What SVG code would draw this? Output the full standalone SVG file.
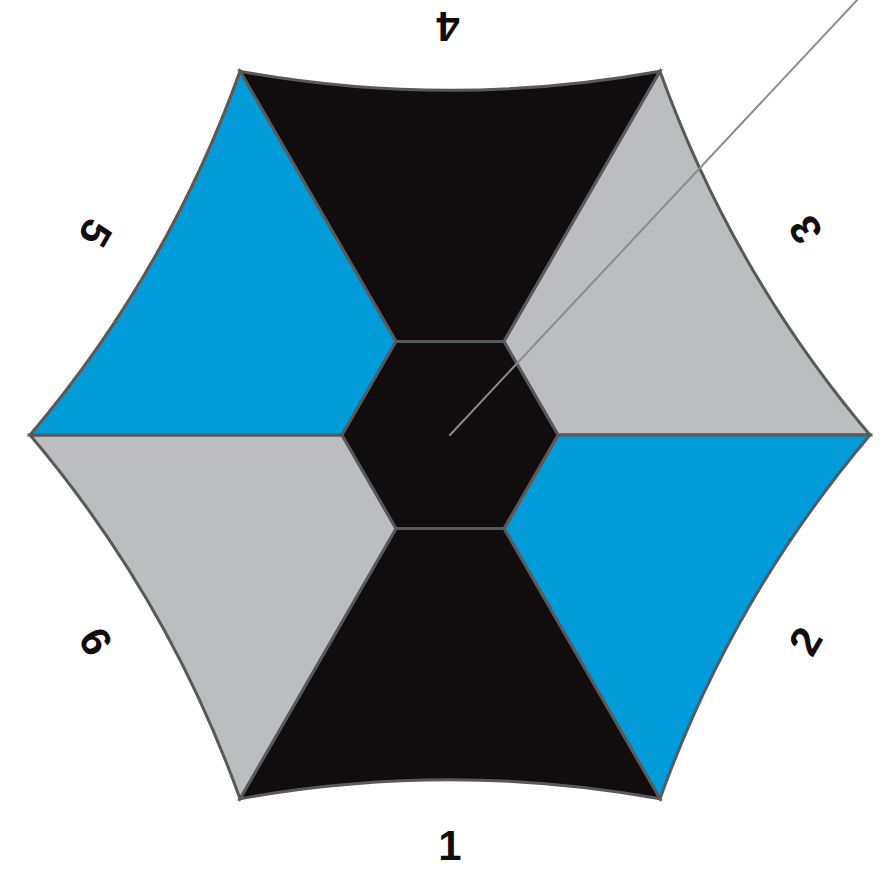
<svg xmlns="http://www.w3.org/2000/svg" width="882" height="880" viewBox="0 0 882 880">
  <style>
    .seg { stroke: #58595b; stroke-width: 3; stroke-linejoin: miter; }
    .black { fill: #110d0f; }
    .blue { fill: #009bd8; }
    .gray { fill: #bcbdbf; }
    .lbl { font-family: "Liberation Sans", Arial, sans-serif; font-weight: bold; font-size: 42px; fill: #110d0f; text-anchor: middle; }
  </style>
  <rect width="882" height="880" fill="#ffffff"/>
  <g id="seg-4"><path class="seg black" d="M396,341.5 L240,71.3 Q450,109.3 660,71.3 L504,341.5 Z"/></g>
  <g id="seg-3"><path class="seg gray" d="M504,341.5 L660,71.3 Q732.1,272.2 870,435 L558,435 Z"/></g>
  <g id="seg-2"><path class="seg blue" d="M558,435 L870,435 Q732.1,597.8 660,798.7 L504,528.5 Z"/></g>
  <g id="seg-1"><path class="seg black" d="M504,528.5 L660,798.7 Q450,760.7 240,798.7 L396,528.5 Z"/></g>
  <g id="seg-6"><path class="seg gray" d="M396,528.5 L240,798.7 Q167.9,597.8 30,435 L342,435 Z"/></g>
  <g id="seg-5"><path class="seg blue" d="M342,435 L30,435 Q167.9,272.2 240,71.3 L396,341.5 Z"/></g>
  <g id="center"><polygon class="seg black" points="558,435 504,341.5 396,341.5 342,435 396,528.5 504,528.5"/></g>
  <g id="connectors">
    <line x1="450" y1="435" x2="859" y2="-2" stroke="#8c8c8c" stroke-width="2" stroke-linecap="round"/>
  </g>
  <g id="labels">
    <g id="label-1" transform="translate(450,845)"><text class="lbl" x="0" y="15">1</text></g>
    <g id="label-2" transform="translate(805,641) rotate(-60)"><text class="lbl" x="0" y="15">2</text></g>
    <g id="label-3" transform="translate(805,230) rotate(-120)"><text class="lbl" x="0" y="15">3</text></g>
    <g id="label-4" transform="translate(448,27) rotate(180)"><text class="lbl" x="0" y="15">4</text></g>
    <g id="label-5" transform="translate(96,233) rotate(120)"><text class="lbl" x="0" y="15">5</text></g>
    <g id="label-6" transform="translate(96,641) rotate(60)"><text class="lbl" x="0" y="15">6</text></g>
  </g>
</svg>
